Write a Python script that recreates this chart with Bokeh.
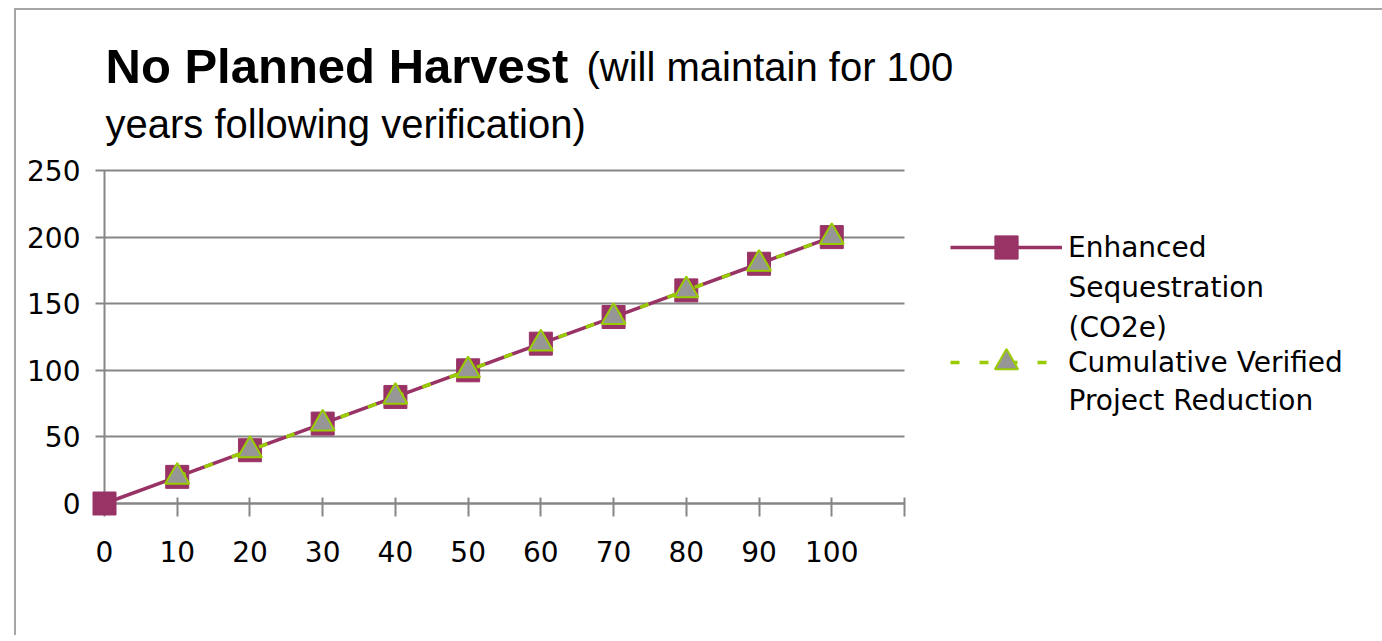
from bokeh.plotting import figure
from bokeh.models import (Range1d, FixedTicker, LinearAxis, Label, Legend,
                          LegendItem, Grid)
from bokeh.embed import file_html
from bokeh.resources import INLINE

# ---- data ----
years = [0, 10, 20, 30, 40, 50, 60, 70, 80, 90, 100]
enhanced = [0, 20, 40, 60, 80, 100, 120, 140, 160, 180, 200]
verified = [float("nan"), 20, 40, 60, 80, 100, 120, 140, 160, 180, 200]
x_ticks = [0, 10, 20, 30, 40, 50, 60, 70, 80, 90, 100, 110]
y_ticks = [0, 50, 100, 150, 200, 250]
series_names = ["Enhanced\nSequestration\n(CO2e)", "Cumulative Verified\nProject Reduction"]
title_bold = "No Planned Harvest"
title_rest = ["(will maintain for 100", "years following verification)"]

MAROON = "#993366"
GREEN = "#99cc00"
GRAY_FILL = "#969696"
GRID = "#868686"
TICK_FONT = "DejaVu Sans"

# ---- layout (page pixels) ----
FIG_L, FIG_T, W, H = 16, 10, 1366, 625
X0_PX, X110_PX, Y0_PX, Y250_PX = 104, 904, 503, 170
kx = (X110_PX - X0_PX) / 110.0
ky = (Y0_PX - Y250_PX) / 250.0
x_start = (FIG_L - X0_PX) / kx
x_end = (FIG_L + W - X0_PX) / kx
y_start = -(FIG_T + H - Y0_PX) / ky
y_end = (Y0_PX - FIG_T) / ky


def sx(px):
    return px - FIG_L


def sy(py):
    return FIG_T + H - py


p = figure(frame_width=W, frame_height=H,
           x_range=Range1d(x_start, x_end), y_range=Range1d(y_start, y_end),
           x_axis_location=None, y_axis_location=None,
           output_backend="svg", toolbar_location=None,
           min_border=0, outline_line_color=None,
           background_fill_color="white", border_fill_color="white")
p.center = [r for r in p.center if not isinstance(r, Grid)]
p.styles = {"border-top": "2px solid #a6a6a6", "border-left": "2px solid #a6a6a6",
            "margin-top": "8px", "margin-left": "14px"}

xaxis = LinearAxis(fixed_location=0, bounds=(0, 110),
                   ticker=FixedTicker(ticks=x_ticks),
                   major_label_overrides={110: ""})
yaxis = LinearAxis(fixed_location=0, bounds=(0, 250),
                   ticker=FixedTicker(ticks=y_ticks))
for ax in (xaxis, yaxis):
    ax.axis_line_color = GRID
    ax.axis_line_width = 2
    ax.major_tick_line_color = GRID
    ax.major_tick_line_width = 2
    ax.minor_tick_line_color = None
    ax.major_label_text_font = TICK_FONT
    ax.major_label_text_font_size = "28px"
    ax.major_label_text_color = "black"
    ax.level = "underlay"
xaxis.major_tick_in = 6
xaxis.major_tick_out = 13
xaxis.major_label_standoff = 24
# y-axis ticks drawn across the plot area act as the horizontal gridlines
yaxis.major_tick_in = int(round(X110_PX - X0_PX))
yaxis.major_tick_out = 9
yaxis.major_label_standoff = 15
p.add_layout(xaxis, "below")
p.add_layout(yaxis, "left")

l1 = p.line(years, enhanced, line_color=MAROON, line_width=3.5)
s1 = p.scatter(years, enhanced, marker="square", size=23,
               fill_color=MAROON, line_color=MAROON)
l2 = p.line(years, verified, line_color=GREEN, line_width=3.5, line_dash="9 20")
s2 = p.scatter(years, verified, marker="triangle", size=24,
               fill_color=GRAY_FILL, line_color=GREEN, line_width=2)

first_lines = [n.split("\n")[0] for n in series_names]
ROW = 58
legend = Legend(items=[LegendItem(label=first_lines[0], renderers=[l1, s1]),
                       LegendItem(label=first_lines[1], renderers=[l2, s2])],
                location=(sx(950), sy(247 - ROW / 2 + 2 * ROW + (115 - ROW))),
                glyph_width=112, glyph_height=ROW,
                label_height=20, spacing=115 - ROW, padding=0, margin=0,
                label_standoff=6, border_line_color=None,
                background_fill_alpha=0, label_text_font=TICK_FONT,
                label_text_font_size="28px", label_text_color="black")
p.add_layout(legend)

# continuation lines of legend labels
extra = [(series_names[0].split("\n")[1], 287), (series_names[0].split("\n")[2], 327),
         (series_names[1].split("\n")[1], 400)]
for txt, yc in extra:
    p.add_layout(Label(x=sx(1068), y=sy(yc), x_units="screen", y_units="screen",
                       text=txt, text_baseline="middle", text_align="left",
                       text_font=TICK_FONT, text_font_size="28px",
                       text_color="black"))

# title
p.add_layout(Label(x=sx(105), y=sy(65), x_units="screen", y_units="screen",
                   text=title_bold, text_font="Liberation Sans",
                   text_font_style="bold", text_font_size="49px",
                   text_baseline="alphabetic", text_color="black"))
p.add_layout(Label(x=sx(586), y=sy(66), x_units="screen", y_units="screen",
                   text=title_rest[0], text_font="Liberation Sans",
                   text_font_size="40px", text_baseline="alphabetic",
                   text_color="black"))
p.add_layout(Label(x=sx(105), y=sy(123), x_units="screen", y_units="screen",
                   text=title_rest[1], text_font="Liberation Sans",
                   text_font_size="40px", text_baseline="alphabetic",
                   text_color="black"))

open("out.html", "w").write(file_html(p, INLINE))
